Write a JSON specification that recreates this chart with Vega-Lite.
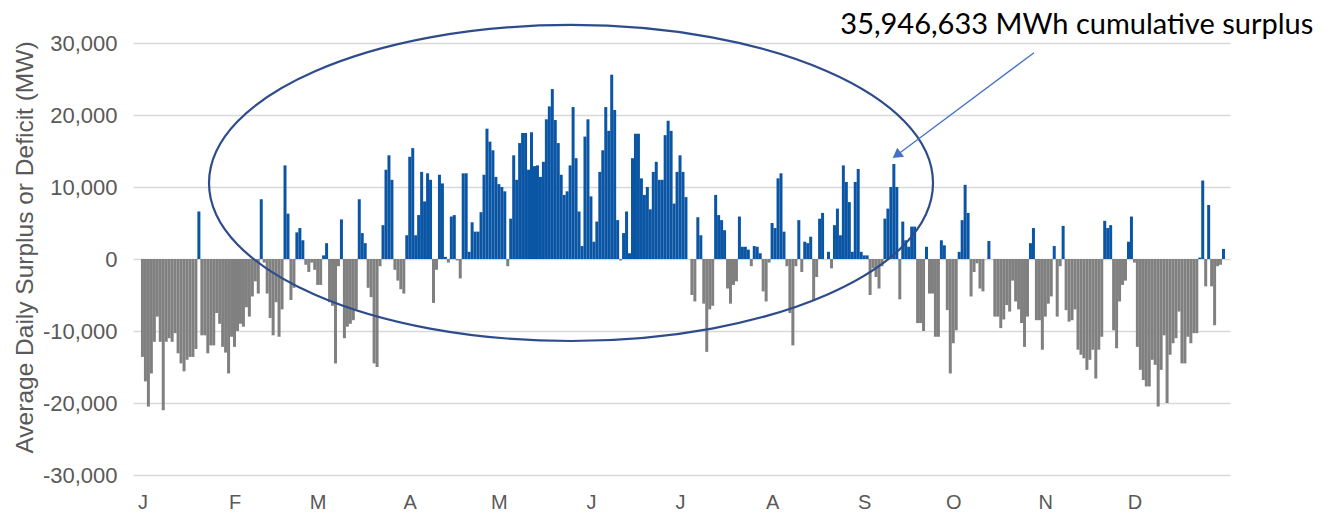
{
  "$schema": "https://vega.github.io/schema/vega-lite/v6.json",
  "width": 1097,
  "height": 432,
  "autosize": {"type": "none"},
  "padding": {"left": 133, "top": 43, "right": 108, "bottom": 39},
  "background": "white",
  "config": {"view": {"stroke": null}, "font": "Liberation Sans"},
  "datasets": {
    "daily": [
      {"day":1,"mw":-13600},{"day":2,"mw":-17000},{"day":3,"mw":-20500},{"day":4,"mw":-15900},{"day":5,"mw":-11500},{"day":6,"mw":-8000},{"day":7,"mw":-11500},{"day":8,"mw":-21000},{"day":9,"mw":-11500},{"day":10,"mw":-11000},
      {"day":11,"mw":-11500},{"day":12,"mw":-10300},{"day":13,"mw":-13100},{"day":14,"mw":-14500},{"day":15,"mw":-15600},{"day":16,"mw":-14000},{"day":17,"mw":-13600},{"day":18,"mw":-13600},{"day":19,"mw":-12500},{"day":20,"mw":6600},
      {"day":21,"mw":-10600},{"day":22,"mw":-10600},{"day":23,"mw":-13100},{"day":24,"mw":-12000},{"day":25,"mw":-12000},{"day":26,"mw":-7500},{"day":27,"mw":-9000},{"day":28,"mw":-12200},{"day":29,"mw":-13000},{"day":30,"mw":-15900},
      {"day":31,"mw":-10800},{"day":32,"mw":-12200},{"day":33,"mw":-10000},{"day":34,"mw":-9000},{"day":35,"mw":-9400},{"day":36,"mw":-6700},{"day":37,"mw":-8000},{"day":38,"mw":-5200},{"day":39,"mw":-3100},{"day":40,"mw":-4800},
      {"day":41,"mw":8300},{"day":42,"mw":-500},{"day":43,"mw":-4800},{"day":44,"mw":-8200},{"day":45,"mw":-10600},{"day":46,"mw":-6000},{"day":47,"mw":-10800},{"day":48,"mw":-7000},{"day":49,"mw":13000},{"day":50,"mw":6300},
      {"day":51,"mw":-5700},{"day":52,"mw":-4000},{"day":53,"mw":3700},{"day":54,"mw":4300},{"day":55,"mw":2600},{"day":56,"mw":-800},{"day":57,"mw":-1800},{"day":58,"mw":-500},{"day":59,"mw":-1500},{"day":60,"mw":-3600},
      {"day":61,"mw":-3600},{"day":62,"mw":500},{"day":63,"mw":2200},{"day":64,"mw":-6000},{"day":65,"mw":-6500},{"day":66,"mw":-14500},{"day":67,"mw":-1000},{"day":68,"mw":5500},{"day":69,"mw":-11000},{"day":70,"mw":-9400},
      {"day":71,"mw":-9000},{"day":72,"mw":-8500},{"day":73,"mw":-7000},{"day":74,"mw":8300},{"day":75,"mw":3600},{"day":76,"mw":2200},{"day":77,"mw":-4000},{"day":78,"mw":-5300},{"day":79,"mw":-14500},{"day":80,"mw":-15000},
      {"day":81,"mw":-1000},{"day":82,"mw":4700},{"day":83,"mw":12400},{"day":84,"mw":14400},{"day":85,"mw":11000},{"day":86,"mw":-1500},{"day":87,"mw":-3000},{"day":88,"mw":-4200},{"day":89,"mw":-4800},{"day":90,"mw":3300},
      {"day":91,"mw":14200},{"day":92,"mw":15400},{"day":93,"mw":3300},{"day":94,"mw":6100},{"day":95,"mw":12100},{"day":96,"mw":8000},{"day":97,"mw":11900},{"day":98,"mw":11000},{"day":99,"mw":-6100},{"day":100,"mw":-1500},
      {"day":101,"mw":11700},{"day":102,"mw":10500},{"day":103,"mw":300},{"day":104,"mw":-500},{"day":105,"mw":5900},{"day":106,"mw":6100},{"day":107,"mw":-200},{"day":108,"mw":-2700},{"day":109,"mw":11900},{"day":110,"mw":11900},
      {"day":111,"mw":1000},{"day":112,"mw":5100},{"day":113,"mw":3800},{"day":114,"mw":3800},{"day":115,"mw":6500},{"day":116,"mw":11700},{"day":117,"mw":18100},{"day":118,"mw":16300},{"day":119,"mw":15100},{"day":120,"mw":11400},
      {"day":121,"mw":10400},{"day":122,"mw":10000},{"day":123,"mw":9400},{"day":124,"mw":-1000},{"day":125,"mw":5600},{"day":126,"mw":14400},{"day":127,"mw":11000},{"day":128,"mw":16100},{"day":129,"mw":17500},{"day":130,"mw":17500},
      {"day":131,"mw":12400},{"day":132,"mw":17600},{"day":133,"mw":12900},{"day":134,"mw":13000},{"day":135,"mw":11400},{"day":136,"mw":13500},{"day":137,"mw":19400},{"day":138,"mw":21200},{"day":139,"mw":23600},{"day":140,"mw":19300},
      {"day":141,"mw":16100},{"day":142,"mw":11700},{"day":143,"mw":8900},{"day":144,"mw":9400},{"day":145,"mw":13000},{"day":146,"mw":21100},{"day":147,"mw":14000},{"day":148,"mw":6600},{"day":149,"mw":1800},{"day":150,"mw":17000},
      {"day":151,"mw":19400},{"day":152,"mw":8700},{"day":153,"mw":2400},{"day":154,"mw":5200},{"day":155,"mw":12100},{"day":156,"mw":15100},{"day":157,"mw":21100},{"day":158,"mw":17800},{"day":159,"mw":25600},{"day":160,"mw":20700},
      {"day":161,"mw":5400},{"day":162,"mw":-200},{"day":163,"mw":3600},{"day":164,"mw":6600},{"day":165,"mw":800},{"day":166,"mw":14000},{"day":167,"mw":17400},{"day":168,"mw":17400},{"day":169,"mw":11200},{"day":170,"mw":8900},
      {"day":171,"mw":10000},{"day":172,"mw":6900},{"day":173,"mw":12100},{"day":174,"mw":13500},{"day":175,"mw":11000},{"day":176,"mw":11000},{"day":177,"mw":17200},{"day":178,"mw":19200},{"day":179,"mw":17800},{"day":180,"mw":7700},
      {"day":181,"mw":12100},{"day":182,"mw":14400},{"day":183,"mw":12100},{"day":184,"mw":8600},{"day":185,"mw":0},{"day":186,"mw":-5000},{"day":187,"mw":-5900},{"day":188,"mw":5800},{"day":189,"mw":3300},{"day":190,"mw":-6200},
      {"day":191,"mw":-12900},{"day":192,"mw":-7000},{"day":193,"mw":-6500},{"day":194,"mw":8900},{"day":195,"mw":6100},{"day":196,"mw":5400},{"day":197,"mw":4000},{"day":198,"mw":-4100},{"day":199,"mw":-6200},{"day":200,"mw":-3600},
      {"day":201,"mw":-3100},{"day":202,"mw":5900},{"day":203,"mw":1700},{"day":204,"mw":1700},{"day":205,"mw":1300},{"day":206,"mw":-1000},{"day":207,"mw":1800},{"day":208,"mw":1700},{"day":209,"mw":800},{"day":210,"mw":-4500},
      {"day":211,"mw":-5900},{"day":212,"mw":-500},{"day":213,"mw":5000},{"day":214,"mw":4300},{"day":215,"mw":11200},{"day":216,"mw":11900},{"day":217,"mw":3800},{"day":218,"mw":-1000},{"day":219,"mw":-7500},{"day":220,"mw":-12000},
      {"day":221,"mw":-1000},{"day":222,"mw":5400},{"day":223,"mw":-1800},{"day":224,"mw":2400},{"day":225,"mw":2200},{"day":226,"mw":3100},{"day":227,"mw":-5700},{"day":228,"mw":-2500},{"day":229,"mw":5600},{"day":230,"mw":6400},
      {"day":231,"mw":0},{"day":232,"mw":1000},{"day":233,"mw":-1300},{"day":234,"mw":4700},{"day":235,"mw":7000},{"day":236,"mw":3300},{"day":237,"mw":13000},{"day":238,"mw":10700},{"day":239,"mw":7900},{"day":240,"mw":1000},
      {"day":241,"mw":10700},{"day":242,"mw":12500},{"day":243,"mw":1000},{"day":244,"mw":500},{"day":245,"mw":500},{"day":246,"mw":-5000},{"day":247,"mw":-1300},{"day":248,"mw":-2500},{"day":249,"mw":-4100},{"day":250,"mw":-1000},
      {"day":251,"mw":5600},{"day":252,"mw":7000},{"day":253,"mw":10000},{"day":254,"mw":13200},{"day":255,"mw":10000},{"day":256,"mw":-5600},{"day":257,"mw":5200},{"day":258,"mw":2600},{"day":259,"mw":1700},{"day":260,"mw":4500},
      {"day":261,"mw":4500},{"day":262,"mw":-8900},{"day":263,"mw":-8900},{"day":264,"mw":-10000},{"day":265,"mw":1700},{"day":266,"mw":-4800},{"day":267,"mw":-4800},{"day":268,"mw":-10800},{"day":269,"mw":-10800},{"day":270,"mw":2600},
      {"day":271,"mw":1900},{"day":272,"mw":-7100},{"day":273,"mw":-15900},{"day":274,"mw":-11700},{"day":275,"mw":-9900},{"day":276,"mw":1000},{"day":277,"mw":5400},{"day":278,"mw":10300},{"day":279,"mw":6400},{"day":280,"mw":-5200},
      {"day":281,"mw":-1800},{"day":282,"mw":-600},{"day":283,"mw":-4100},{"day":284,"mw":-4500},{"day":285,"mw":0},{"day":286,"mw":2500},{"day":287,"mw":0},{"day":288,"mw":-8000},{"day":289,"mw":-8000},{"day":290,"mw":-9600},
      {"day":291,"mw":-8400},{"day":292,"mw":-6400},{"day":293,"mw":-7300},{"day":294,"mw":-3000},{"day":295,"mw":-5900},{"day":296,"mw":-7000},{"day":297,"mw":-8900},{"day":298,"mw":-12200},{"day":299,"mw":-8000},{"day":300,"mw":2200},
      {"day":301,"mw":4300},{"day":302,"mw":-8500},{"day":303,"mw":-8500},{"day":304,"mw":-12600},{"day":305,"mw":-8000},{"day":306,"mw":-6200},{"day":307,"mw":-5200},{"day":308,"mw":1800},{"day":309,"mw":-8000},{"day":310,"mw":-1000},
      {"day":311,"mw":4600},{"day":312,"mw":-7100},{"day":313,"mw":-8700},{"day":314,"mw":-8500},{"day":315,"mw":-7000},{"day":316,"mw":-12600},{"day":317,"mw":-13300},{"day":318,"mw":-13800},{"day":319,"mw":-15400},{"day":320,"mw":-14000},
      {"day":321,"mw":-12600},{"day":322,"mw":-16600},{"day":323,"mw":-12600},{"day":324,"mw":-10800},{"day":325,"mw":5300},{"day":326,"mw":4300},{"day":327,"mw":4700},{"day":328,"mw":-9900},{"day":329,"mw":-12400},{"day":330,"mw":-5900},
      {"day":331,"mw":-3600},{"day":332,"mw":-3000},{"day":333,"mw":2400},{"day":334,"mw":5900},{"day":335,"mw":-500},{"day":336,"mw":-12200},{"day":337,"mw":-15400},{"day":338,"mw":-16800},{"day":339,"mw":-17700},{"day":340,"mw":-17700},
      {"day":341,"mw":-14000},{"day":342,"mw":-14700},{"day":343,"mw":-20500},{"day":344,"mw":-15400},{"day":345,"mw":-10600},{"day":346,"mw":-20000},{"day":347,"mw":-13300},{"day":348,"mw":-11700},{"day":349,"mw":-11000},{"day":350,"mw":-7300},
      {"day":351,"mw":-14500},{"day":352,"mw":-14500},{"day":353,"mw":-10800},{"day":354,"mw":-11700},{"day":355,"mw":-10300},{"day":356,"mw":-10300},{"day":357,"mw":200},{"day":358,"mw":10900},{"day":359,"mw":-3800},{"day":360,"mw":7500},
      {"day":361,"mw":-3800},{"day":362,"mw":-9200},{"day":363,"mw":-1000},{"day":364,"mw":-800},{"day":365,"mw":1400}
    ],
    "ellipse": [{"day": 145.3, "mw": 10560}],
    "arrow": [{"day": 301.2, "mw": 28650, "step": 1}, {"day": 255.4, "mw": 14560, "step": 2}],
    "arrowhead": [{"day": 255.4, "mw": 14560}],
    "note": [{"day": 315.6, "mw": 32500, "label": "35,946,633 MWh cumulative surplus"}]
  },
  "encoding": {
    "x": {
      "field": "day", "type": "quantitative",
      "scale": {"domain": [-0.5, 365.5], "nice": false, "zero": false},
      "axis": {
        "values": [1, 32, 60, 91, 121, 152, 182, 213, 244, 274, 305, 335],
        "labelExpr": "['J','F','M','A','M','J','J','A','S','O','N','D'][indexof([1,32,60,91,121,152,182,213,244,274,305,335], datum.value)]",
        "title": null, "grid": false, "ticks": false, "domain": false,
        "labelFontSize": 20, "labelColor": "#595959", "labelPadding": 17, "labelFlush": false
      }
    },
    "y": {
      "field": "mw", "type": "quantitative",
      "scale": {"domain": [-30000, 30000], "nice": false},
      "axis": {
        "values": [-30000, -20000, -10000, 0, 10000, 20000, 30000],
        "labelExpr": "datum.value < 0 ? '-' + format(-datum.value, ',d') : format(datum.value, ',d')",
        "title": "Average Daily Surplus or Deficit (MW)",
        "titleFontSize": 24.5, "titleFontWeight": "normal", "titleColor": "#595959", "titlePadding": 5, "titleY": 204,
        "labelFontSize": 22, "labelColor": "#595959", "labelPadding": 16,
        "grid": true, "gridColor": "#D9D9D9", "gridWidth": 1.3,
        "ticks": false, "domain": false
      }
    }
  },
  "layer": [
    {
      "data": {"name": "daily"},
      "mark": {"type": "bar", "size": 3},
      "encoding": {
        "color": {"condition": {"test": "datum.mw >= 0", "value": "#0B55A5"}, "value": "#808080"}
      }
    },
    {
      "data": {"name": "ellipse"},
      "mark": {
        "type": "point",
        "shape": "M -1 0 A 1 0.4365 0 1 1 1 0 A 1 0.4365 0 1 1 -1 0 Z",
        "size": 524176, "filled": false, "stroke": "#2E4C8C", "strokeWidth": 2.2, "opacity": 1, "clip": false
      }
    },
    {
      "data": {"name": "arrow"},
      "mark": {"type": "line", "color": "#4472C4", "strokeWidth": 1.3, "clip": false},
      "encoding": {"order": {"field": "step"}}
    },
    {
      "data": {"name": "arrowhead"},
      "mark": {"type": "point", "shape": "triangle", "angle": 233.6, "size": 130, "filled": true, "color": "#4472C4", "opacity": 1, "clip": false}
    },
    {
      "data": {"name": "note"},
      "mark": {"type": "text", "font": "Lato", "fontSize": 29, "color": "#000000", "align": "center", "baseline": "middle", "clip": false},
      "encoding": {"text": {"field": "label"}}
    }
  ]
}
